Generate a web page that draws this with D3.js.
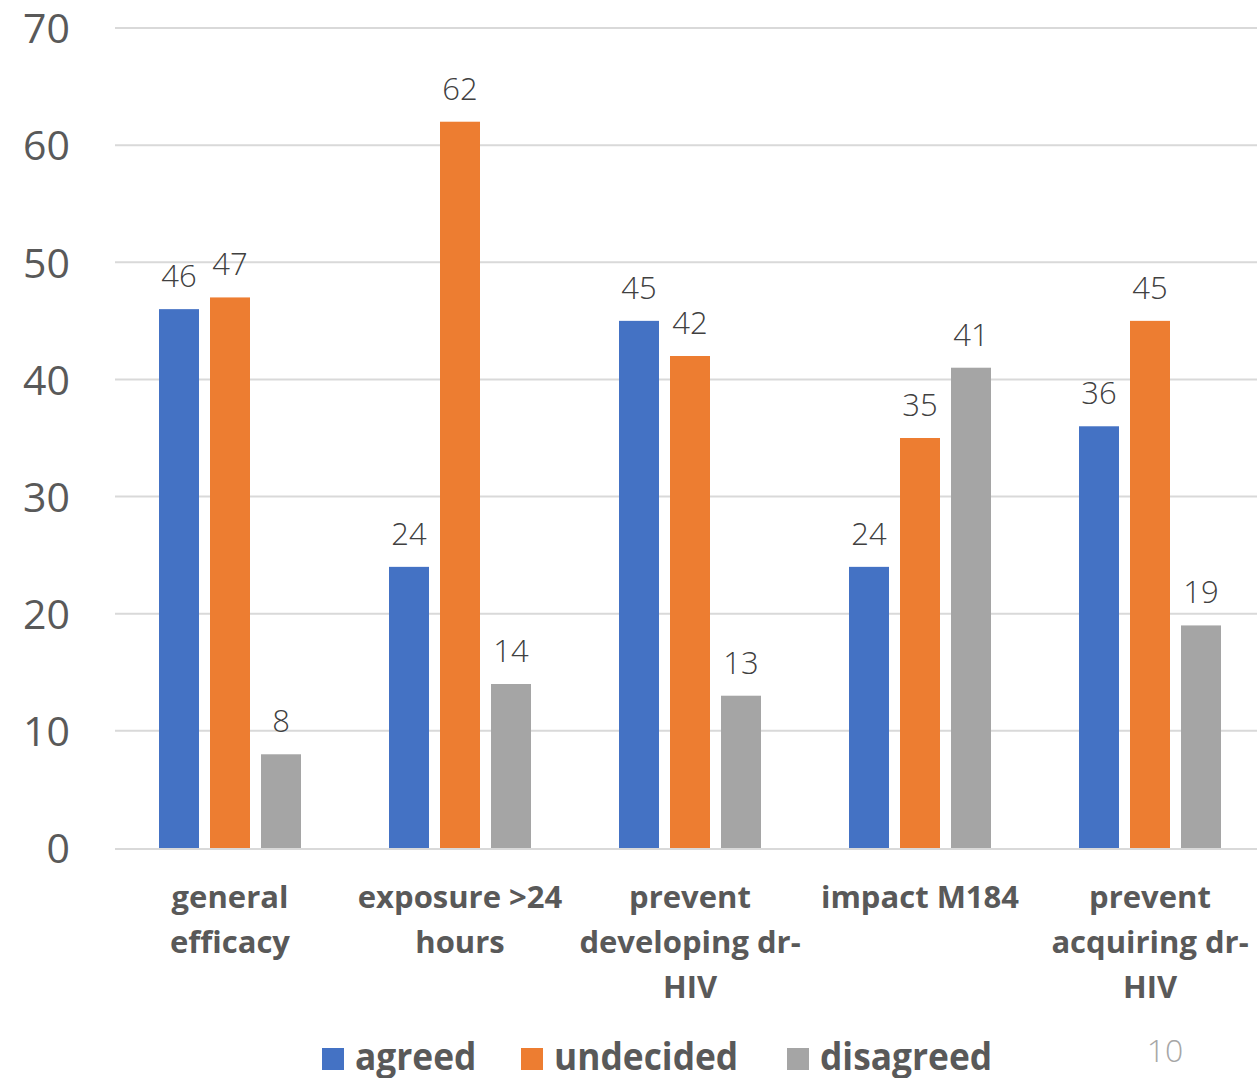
<!DOCTYPE html>
<html>
<head>
<meta charset="utf-8">
<script src="https://cdn.jsdelivr.net/npm/d3@7"></script>
<style>
  html, body { margin: 0; padding: 0; background: #ffffff; }
  svg { display: block; }
</style>
</head>
<body>
<svg id="chart" width="1257" height="1078"></svg>
<script>
// Survey responses per statement
const categories = [
  ["general", "efficacy"],
  ["exposure >24", "hours"],
  ["prevent", "developing dr-", "HIV"],
  ["impact M184"],
  ["prevent", "acquiring dr-", "HIV"]
];
const seriesNames = ["agreed", "undecided", "disagreed"];
const agreed    = [46, 24, 45, 24, 36];
const undecided = [47, 62, 42, 35, 45];
const disagreed = [8, 14, 13, 41, 19];
const yTicks = [0, 10, 20, 30, 40, 50, 60, 70];
const colors = ["#4472c4", "#ed7d31", "#a5a5a5"];
const pageNumber = "10";

const seriesValues = [agreed, undecided, disagreed];
const svg = d3.select("#chart");
const font = "'Open Sans', 'Noto Sans', sans-serif";

const x0 = d3.scaleBand()
  .domain(d3.range(categories.length))
  .range([115, 1265])
  .paddingInner(0).paddingOuter(0);
const x1 = d3.scaleBand()
  .domain(d3.range(seriesNames.length))
  .range([44, 186])
  .paddingInner(0.2157);
const y = d3.scaleLinear().domain([0, 70]).range([848, 28]);

// Gridlines
svg.append("g").selectAll("line")
  .data(yTicks.filter(t => t > 0))
  .join("line")
  .attr("x1", 115).attr("x2", 1257)
  .attr("y1", d => y(d)).attr("y2", d => y(d))
  .attr("stroke", "#d9d9d9").attr("stroke-width", 2);

// Y axis labels
const yAxis = svg.append("g").attr("transform", "translate(70,0)")
  .call(d3.axisLeft(y).tickValues(yTicks).tickSize(0).tickPadding(0));
yAxis.select(".domain").remove();
yAxis.selectAll("text")
  .attr("font-family", font).attr("font-size", 41).attr("font-weight", 400)
  .attr("fill", "#595959").attr("dy", "0.36em");

// Bars
const groups = svg.append("g").selectAll("g")
  .data(categories.map((c, i) => i))
  .join("g")
  .attr("transform", i => `translate(${x0(i)},0)`);

groups.selectAll("rect")
  .data(i => seriesValues.map((vals, s) => ({ s, v: vals[i] })))
  .join("rect")
  .attr("x", d => x1(d.s))
  .attr("width", x1.bandwidth())
  .attr("y", d => y(d.v))
  .attr("height", d => y(0) - y(d.v))
  .attr("fill", d => colors[d.s]);

// Value labels
groups.selectAll("text.val")
  .data(i => seriesValues.map((vals, s) => ({ s, v: vals[i] })))
  .join("text")
  .attr("class", "val")
  .attr("x", d => x1(d.s) + x1.bandwidth() / 2)
  .attr("y", d => y(d.v) - 22)
  .attr("text-anchor", "middle")
  .attr("font-family", font).attr("font-size", 31).attr("font-weight", 300)
  .attr("fill", "#404040")
  .text(d => d.v);

// Axis baseline
svg.append("line")
  .attr("x1", 115).attr("x2", 1257)
  .attr("y1", y(0) + 1).attr("y2", y(0) + 1)
  .attr("stroke", "#d9d9d9").attr("stroke-width", 2);

// Category labels
const catLabels = svg.append("g").selectAll("text")
  .data(categories)
  .join("text")
  .attr("text-anchor", "middle")
  .attr("font-family", font).attr("font-size", 31).attr("font-weight", "bold")
  .attr("fill", "#595959")
  .attr("transform", (d, i) => `translate(${x0(i) + x0.bandwidth() / 2},908)`);
catLabels.selectAll("tspan")
  .data(d => d)
  .join("tspan")
  .attr("x", 0)
  .attr("y", (d, j) => j * 45)
  .text(d => d);

// Legend
const legendX = [322, 521, 787];
const legend = svg.append("g").selectAll("g")
  .data(seriesNames)
  .join("g")
  .attr("transform", (d, i) => `translate(${legendX[i]},0)`);
legend.append("rect")
  .attr("x", 0).attr("y", 1048).attr("width", 22).attr("height", 22)
  .attr("fill", (d, i) => colors[i]);
legend.append("text")
  .attr("transform", "translate(33,1070) scale(0.93,1)")
  .attr("font-family", font).attr("font-size", 38).attr("font-weight", "bold")
  .attr("fill", "#595959")
  .text(d => d);

// Page number
svg.append("text")
  .attr("x", 1165).attr("y", 1062)
  .attr("text-anchor", "middle")
  .attr("font-family", font).attr("font-size", 32).attr("font-weight", 300)
  .attr("fill", "#a6a6a6")
  .text(pageNumber);
</script>
</body>
</html>
